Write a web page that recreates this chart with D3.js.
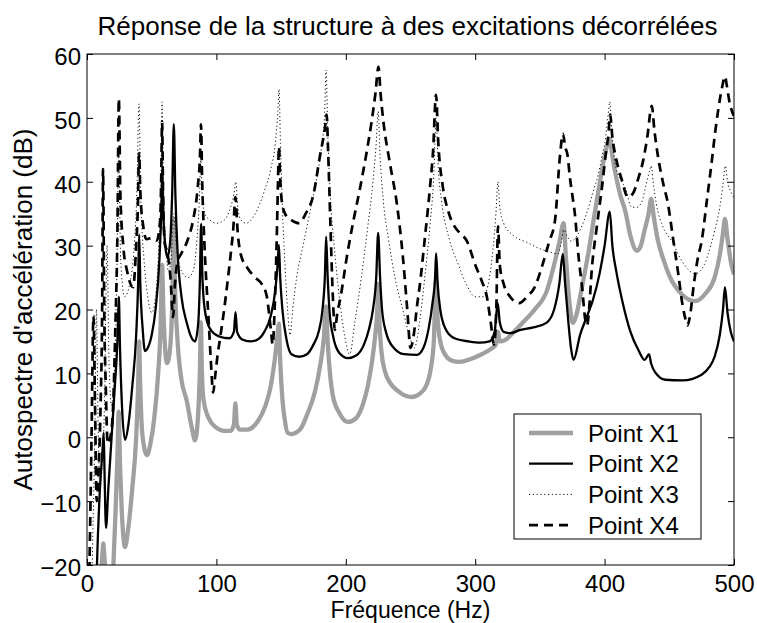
<!DOCTYPE html>
<html>
<head>
<meta charset="utf-8">
<script src="https://cdn.jsdelivr.net/npm/d3@7"></script>
<style>
  body { margin: 0; background: #fff; }
  svg { display: block; font-family: "Liberation Sans", Arial, Helvetica, sans-serif; }
</style>
</head>
<body>
<div id="chart"></div>
<script>
// ---- data: [frequency (Hz), level (dB)] ----
const xTicks = [0, 100, 200, 300, 400, 500];
const yTicks = [-20, -10, 0, 10, 20, 30, 40, 50, 60];
const seriesNames = ["Point X1", "Point X2", "Point X3", "Point X4"];

const x1Points = [
  [5,-40],[9,-28],[11,-21],[12,-18],[12.6,-16.6],[13.2,-18],[14.5,-22],[17,-30],[20,-22],[22,-12],
  [23.5,-3],[24.5,4],[25.5,-4],[27,-12],[29.4,-17.2],[32,-14],[35,-8],[38,0],[39.5,8],[40.3,15],
  [41,9],[43,0],[46.4,-2.8],[49,-1],[52,3],[55,10],[57,18],[58,27],[59,20],[60.5,13.5],
  [61.8,11.6],[64,13.5],[66,22],[67,34],[68,24],[70,15],[73,9],[77,5.8],[81,1.5],[83.5,-0.5],
  [86,4],[87.3,11],[88,18],[88.7,11],[90,6],[94,3],[100,1.5],[106,1],[111,1],[113.5,2],
  [114.7,5.3],[115.8,2],[118,1.2],[124,1.2],[132,2.5],[138,5],[142,8],[145,12],[147,15.5],[148.3,17.8],
  [149.3,12],[151,6],[153,2.5],[155,0.7],[158,0.5],[164.6,1.2],[170,3.5],[176,7],[180,11],[183,15.5],
  [184.7,20.5],[186,15],[188,9.5],[190,6.5],[195,3.8],[201.7,2.4],[208,3],[213,5],[217,8],[220,11.5],
  [222.5,15.5],[224.3,20],[225,24],[226,18],[227.5,13.5],[230,10.5],[235,8.3],[240,7.3],[245,6.6],[251,6.3],
  [257,6.8],[262,8],[265.5,10.5],[268,15],[269.7,24.5],[271,18.5],[273,15],[276,13.2],[282,12],[288,11.8],
  [296,12.2],[305,13],[312,13.8],[316,14.5],[317.6,16.5],[319,15],[323,15.2],[329,16.3],[337,18],[346,20],
  [355.5,23],[361,27],[365,30.5],[368.3,33.5],[370,28.5],[372,23],[375.6,17.9],[378,19],[382.5,23.5],[388,29.5],
  [392.6,35.4],[396,39.5],[400,44],[402.5,46],[404,46.7],[406,44],[408,41.7],[412,38],[416,35.4],[420,31.5],
  [425,29.2],[428,30],[431,32.5],[434,35],[436,37.3],[438,34.5],[441,31],[446,27.5],[450,25.3],[460,22.3],
  [470,21.3],[478,22.5],[485,25],[489,28.5],[491.5,32],[493,34.2],[495,31],[498,27],[500,25.5]
];

const x2Points = [
  [5,-45],[7.7,-20],[10,-8],[12,-2],[12.9,0.7],[13.5,-5],[14.7,-14.2],[16.5,-8],[19,0],[21.5,8],
  [23.5,15],[24.6,22],[25.5,14],[27,5],[29.4,-0.4],[32,2],[35,8],[38,16],[39.5,24],[40.3,31.7],
  [41.2,24],[43,17],[44.8,13.5],[47,14],[50,16],[53,20],[56,28],[57.5,36],[58.2,42],[59,35],
  [60.5,30],[62,28.2],[64,30],[65.8,38],[67.1,49],[68.3,38],[70,29],[73,22],[77,18],[81,15.5],
  [83.5,15],[86,18],[87.3,25],[88.2,33.4],[89.2,25],[91,20],[95,17],[102,15.8],[110,15.5],[113.5,16.5],
  [114.8,19.6],[116,16.5],[120,15.3],[126,15],[131,15.2],[137,16.5],[142,19],[145.5,23],[147.3,27],[148.3,30.1],
  [149.3,25],[151,20],[154,15.5],[158,13],[164,12.6],[170,13],[175,14.5],[179,16.5],[182,20],[183.8,25],
  [184.8,31.4],[186,25],[187.5,19.5],[190,16],[195,13.2],[201.7,12.4],[208,12.8],[214,14.5],[218,17],[221,20],
  [223.5,25],[225,32],[226.5,25],[228,20],[231,16.5],[237,14],[245,13],[255,12.9],[260,14],[264,17],
  [267,21],[269,25],[269.8,28.8],[271,24],[273,20],[277,17],[284,15.5],[295,15],[303.7,14.8],[311,15],
  [315,16.5],[317.4,21],[319,18],[322,16.5],[327,16.3],[335,16.8],[345,17.2],[355,17.9],[361,20],[365,24],
  [367.7,28.7],[369.5,24],[372,18],[374,14],[376,12.1],[381,16],[386.5,19],[391,21.5],[396,25.5],[400,30],
  [404,35.3],[406,30],[409,26],[413.5,21.5],[420,16.5],[426,13.7],[431,12.1],[434.3,13],[436,11.5],[439,10.2],
  [447,9],[460,8.9],[475,9.8],[481,11],[485,12.6],[489,16],[491.5,20],[493,23.5],[495,19.5],[497.5,16.5],
  [500,15]
];

const x3Points = [
  [2,-40],[4,-20],[6,0],[7.3,20],[8.5,3],[10,-8],[12,-3],[13.5,5],[15.5,30],[17,12],
  [19,5],[21.5,12],[23,25],[24.5,45],[26,28],[29,22],[33,24],[36.5,30],[38.5,38],[40.2,52.2],
  [41.5,38],[44,28],[47,22],[50,19.5],[53,22],[55.5,30],[57.2,40],[58,52.5],[59,40],[61,30],
  [63,26],[65,28],[67,35],[69,30],[73,26],[78,25],[82,26],[85,31],[87,38],[88,44],
  [89,38],[91,35],[95,34],[100,33.5],[106,34],[111,36],[113.5,38],[115,40],[116.5,36],[119,34],
  [123,33.5],[130,35],[137,38.5],[142,42],[145.5,46],[147.5,51],[148.4,54.5],[149.5,46],[151,36],[153,27],
  [155,20],[157,16],[159,20],[162,25],[167,30],[172,35],[177,40],[181,45],[183.5,50],[184.8,57.5],
  [186,48],[188,38],[191,30],[195,22],[199,16],[203,13],[207,18],[212,25],[217,33],[221,40],
  [223.5,46],[225,51],[226.5,44],[229,37],[233,31],[238,25],[244,20],[249,16],[253,14],[257,18],
  [261,25],[265,33],[268,41],[269.8,50],[271.5,42],[274,37],[280,31],[287,27],[293,24],[300,22],
  [306,22],[311,25],[314,30],[316,35],[317.6,40],[319,36],[322,33.5],[330,31.5],[340,30.5],[350,29.5],
  [358,29],[364,28.7],[366.5,30.5],[368.5,32.5],[371,31.5],[374,30.7],[380,32],[386,35],[392,39],[395,41],
  [398,44],[400.5,46.5],[402.5,50],[404,52.5],[405.5,48],[408,43],[412,40.5],[416,39],[421,36],[425,36],
  [429,37],[432,39.5],[434.5,41.5],[436,42.5],[437.5,40],[440,36.5],[445,33],[452,30.7],[460,27.5],[470,25.6],
  [477,27],[482,30],[485,32.3],[489,36],[491.5,39.5],[493.3,42.5],[495,40],[497.5,38.5],[500,37.5]
];

const x4Points = [
  [0.5,-35],[2,-19],[3.5,0],[5,19],[6.2,5],[7.5,-10],[9,-5],[10.5,5],[11.7,20],[12.4,42],
  [13.3,20],[14.5,8],[16,-1],[18,0],[20,4],[22,18],[23.5,32],[24.6,53],[25.8,38],[28,30],
  [31,26],[35.7,23.5],[38,30],[39.3,36],[40.2,44.5],[41.3,38],[43.5,33],[46,31],[50,31.2],[54,30.8],
  [56.5,34],[57.4,41],[58,49.4],[58.8,38],[60,30.4],[62,29],[64.5,25],[66.5,18.8],[68,24],[70,27.5],
  [73,28.8],[78,31],[82,34],[85.5,39],[87.3,44],[88.1,49],[89,40],[89.8,35],[91.5,27],[93.7,19.4],
  [95.7,12],[97.5,7],[99,9.5],[101,13],[103,15.7],[106,20],[109,25],[111.5,29.5],[113,32.5],[114.7,37.6],
  [116.5,32],[119,28.5],[124,26.5],[130,25],[135,24],[139,22],[142,17],[143.5,14.5],[145,20],[146.5,30],
  [147.6,40],[148.3,45.5],[149.3,40.5],[150.5,37],[153,35],[158,34],[164,33.5],[169,35],[175,38],[180,44],
  [184,48.6],[185.2,50.5],[186.3,45],[188,34],[190,22],[191.5,16.8],[193.5,19.5],[196,22],[201,28.5],[206,34],
  [211,39],[216,44.5],[220,49.5],[223,54],[225.2,58],[227,53.5],[229,49.5],[234,43],[239.5,36.5],[244,28.5],
  [247.5,20],[250,14],[252.5,16],[255,20.5],[257,23.5],[261,31],[265,39],[267.5,45],[269.7,53.6],[271.5,46],
  [275,39.2],[279,35.5],[284,33],[288,32],[293.6,30.7],[300,27],[305,24.5],[309,22],[312,18],[314.5,14.5],
  [316.3,20],[317.6,33],[319,27],[322,24],[327,22],[334,21],[340,22],[346,23.5],[352,27],[357,30.5],
  [361.7,34],[365.5,44],[367.8,47.5],[369.5,45.5],[371.5,44],[373,41],[375,38],[377,35],[380,28],[382.6,23.5],
  [385,18.5],[386.5,17.5],[388,20],[390,26],[394,33],[398,39.2],[401,44.5],[403,47.5],[404.3,50.5],[406,47],
  [409,43.5],[413,40.5],[418,37.6],[422,38.2],[426,40.5],[430,43.5],[433,47],[436.5,51.9],[438.5,48],[441,44.3],
  [445,40],[449,36.5],[453,31],[457,25.5],[460,21],[462.5,18.5],[464,17.5],[466,19],[469,24],[472,28],
  [475,30.7],[479,37],[483,43.5],[485,47],[488,51.5],[491,55],[493,56.5],[494.5,55],[496.5,52.5],[498.5,51],
  [500,50.3]
];

const seriesData = [x1Points, x2Points, x3Points, x4Points];

// ---- styles ----
const lineStyles = [
  { stroke: "#a0a0a0", width: 4.3, dash: null },
  { stroke: "#000", width: 2.3, dash: null },
  { stroke: "#111", width: 1, dash: "1.2,2.6" },
  { stroke: "#000", width: 2.7, dash: "9,6" }
];

const W = 757, H = 623;
const plot = { left: 87, right: 734, top: 54, bottom: 565 };

const svg = d3.select("#chart").append("svg")
  .attr("width", W)
  .attr("height", H);

const x = d3.scaleLinear().domain([0, 500]).range([plot.left, plot.right]);
const y = d3.scaleLinear().domain([-20, 60]).range([plot.bottom, plot.top]);

svg.append("clipPath").attr("id", "clip")
  .append("rect")
  .attr("x", plot.left).attr("y", plot.top)
  .attr("width", plot.right - plot.left).attr("height", plot.bottom - plot.top);

// curves
const line = d3.line()
  .x(d => x(d[0]))
  .y(d => y(d[1]))
  .curve(d3.curveMonotoneX);

const curves = svg.append("g").attr("clip-path", "url(#clip)");
seriesData.forEach((pts, i) => {
  const st = lineStyles[i];
  curves.append("path")
    .datum(pts)
    .attr("d", line)
    .attr("fill", "none")
    .attr("stroke", st.stroke)
    .attr("stroke-width", st.width)
    .attr("stroke-linejoin", "round")
    .attr("stroke-dasharray", st.dash);
});

// axes (ticks pointing inward, on all four sides)
const tickFont = "24px";
const gx = svg.append("g")
  .attr("transform", `translate(0,${plot.bottom})`)
  .call(d3.axisBottom(x).tickValues(xTicks).tickSize(-6).tickPadding(10));
const gy = svg.append("g")
  .attr("transform", `translate(${plot.left},0)`)
  .call(d3.axisLeft(y).tickValues(yTicks).tickSize(-6).tickPadding(6));
svg.append("g")
  .attr("transform", `translate(0,${plot.top})`)
  .call(d3.axisTop(x).tickValues(xTicks).tickSize(-6).tickFormat(""));
svg.append("g")
  .attr("transform", `translate(${plot.right},0)`)
  .call(d3.axisRight(y).tickValues(yTicks).tickSize(-6).tickFormat(""));

svg.selectAll(".domain").remove();
svg.selectAll(".tick line").attr("stroke", "#000");
gx.selectAll("text").style("font-size", tickFont).attr("fill", "#000");
gy.selectAll("text").style("font-size", tickFont).attr("fill", "#000").attr("dy", "0.43em");

svg.append("rect")
  .attr("x", plot.left).attr("y", plot.top)
  .attr("width", plot.right - plot.left).attr("height", plot.bottom - plot.top)
  .attr("fill", "none").attr("stroke", "#000").attr("stroke-width", 1);

// titles
svg.append("text")
  .attr("x", 407.5)
  .attr("y", 34.5)
  .attr("text-anchor", "middle")
  .style("font-size", "26px")
  .text("Réponse de la structure à des excitations décorrélées");

svg.append("text")
  .attr("x", (plot.left + plot.right) / 2)
  .attr("y", 618)
  .attr("text-anchor", "middle")
  .style("font-size", "23px")
  .text("Fréquence (Hz)");

svg.append("text")
  .attr("transform", `translate(32,${(plot.top + plot.bottom) / 2}) rotate(-90)`)
  .attr("text-anchor", "middle")
  .style("font-size", "26px")
  .text("Autospectre d'accélération (dB)");

// legend
const legend = svg.append("g").attr("transform", "translate(514,414)");
legend.append("rect")
  .attr("width", 187).attr("height", 125)
  .attr("fill", "#fff").attr("stroke", "#000").attr("stroke-width", 1);
seriesNames.forEach((name, i) => {
  const st = lineStyles[i];
  const ry = 19 + i * 30.7;
  legend.append("line")
    .attr("x1", 15).attr("x2", 59).attr("y1", ry).attr("y2", ry)
    .attr("stroke", st.stroke).attr("stroke-width", st.width)
    .attr("stroke-dasharray", st.dash);
  legend.append("text")
    .attr("x", 74).attr("y", ry + 8.5)
    .style("font-size", "24px")
    .text(name);
});
</script>
</body>
</html>
